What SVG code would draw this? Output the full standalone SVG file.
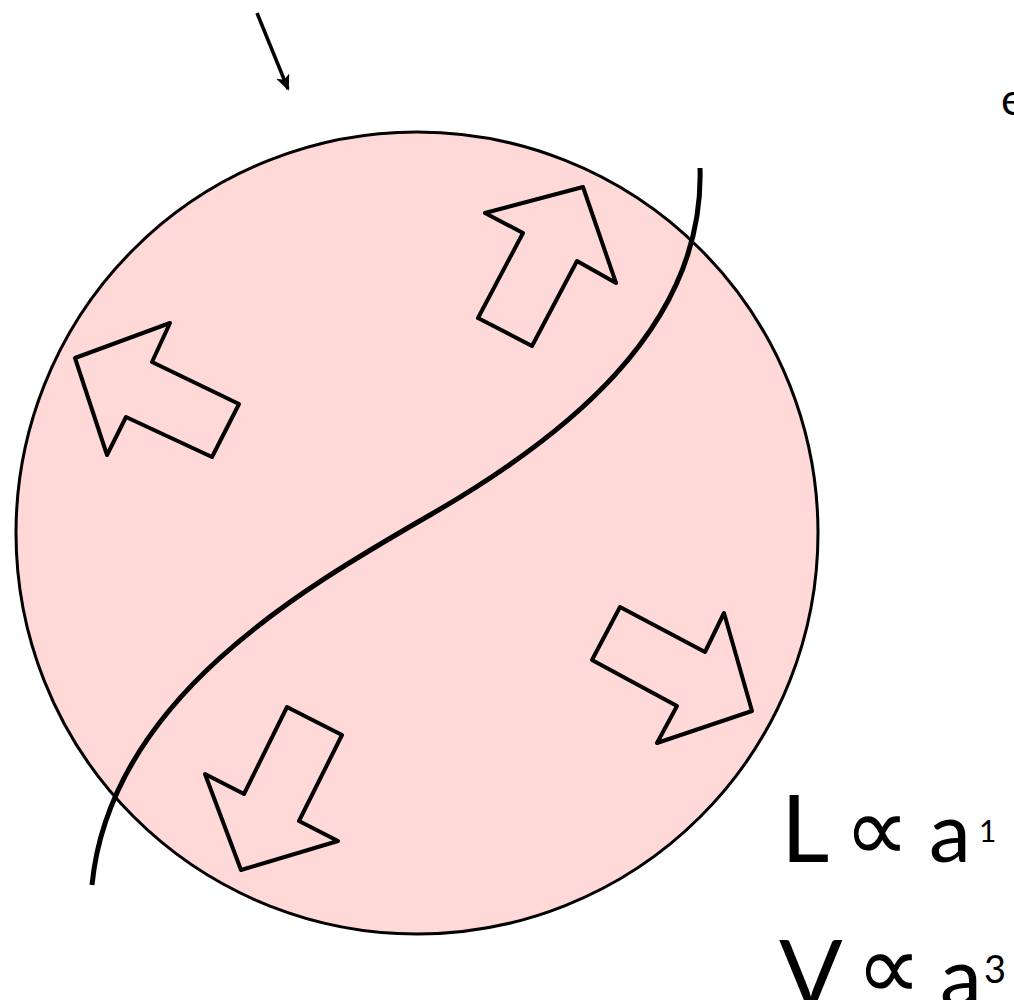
<svg xmlns="http://www.w3.org/2000/svg" width="1014" height="1000" viewBox="0 0 1014 1000">
<style>
.blob{fill:#ffd8d8;stroke:#000;stroke-width:3}
.arr{fill:#ffd8d8;stroke:#000;stroke-width:4;stroke-linejoin:round}
.curve{fill:none;stroke:#000;stroke-width:5;stroke-linecap:butt}
.ptr{fill:none;stroke:#000;stroke-width:3.5}
.t{font-family:Lato,"Open Sans","Liberation Sans",sans-serif;fill:#000}
.sym{font-family:"DejaVu Sans",sans-serif;font-weight:200;fill:#000}
</style>
<defs>
<marker id="head" markerWidth="16" markerHeight="16" refX="14" refY="8" orient="auto" markerUnits="userSpaceOnUse" viewBox="0 0 16 16">
<path d="M0,1 L16,8 L0,15 L4,8 Z" fill="#000"/>
</marker>
</defs>
<g id="sphere">
<circle class="blob" cx="417" cy="533" r="401"/>
</g>
<g id="arrow-tl"><polygon class="arr" points="75,358 170,323 152,362 239,404 212,457 126,417 107,455"/></g>
<g id="arrow-tr"><polygon class="arr" points="583,187 616,283 577,261 532,346 478,318 523,233 485,213"/></g>
<g id="arrow-br"><polygon class="arr" points="620,607 705,652 724,613 752,711 657,743 677,706 592,660"/></g>
<g id="arrow-bl"><polygon class="arr" points="287,707 342,735 299,821 338,841 241,870 205,774 244,794"/></g>
<g id="connectors">
<path class="curve" d="M700,168 C705,330 560,440 430,515 C300,590 110,700 92,885"/>
<path class="ptr" d="M257,13 L288,89" marker-end="url(#head)"/>
</g>
<g id="labels">
<text class="t" x="1001" y="115" font-size="44">e</text>
<text class="t" x="781" y="862" font-size="94">L</text>
<text class="sym" x="844" y="861" font-size="92">∝</text>
<text class="t" x="929" y="862" font-size="84">a</text>
<text class="t" x="979" y="842" font-size="30">1</text>
<text class="t" x="779" y="1007" font-size="94">V</text>
<text class="sym" x="856" y="999" font-size="92">∝</text>
<text class="t" x="940" y="1007" font-size="84">a</text>
<text class="t" x="984" y="983" font-size="38">3</text>
</g>
</svg>
